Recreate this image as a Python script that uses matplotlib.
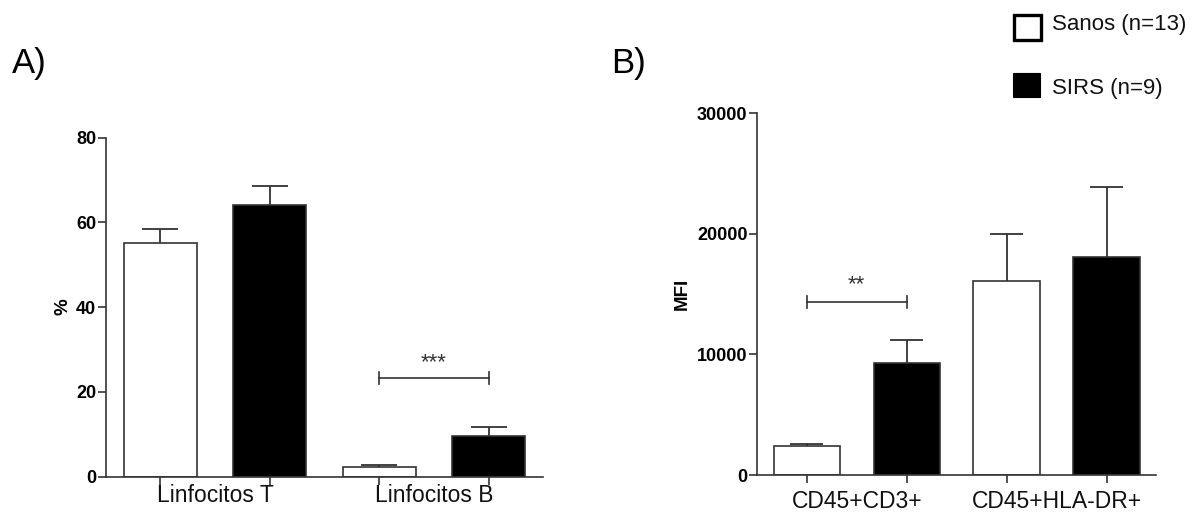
import matplotlib
matplotlib.use("Agg")
import matplotlib.pyplot as plt
from matplotlib.patches import Rectangle
import numpy as np

plt.rcParams['font.family'] = ['Liberation Sans', 'DejaVu Sans']

# ---- Data ----
groups_a = ["Linfocitos T", "Linfocitos B"]
sanos_a = [55.1, 2.2]
sanos_a_err = [3.3, 0.5]
sirs_a = [64.2, 9.5]
sirs_a_err = [4.5, 2.1]

groups_b = ["CD45+CD3+", "CD45+HLA-DR+"]
sanos_b = [2430, 16080]
sanos_b_err = [170, 3950]
sirs_b = [9260, 18070]
sirs_b_err = [1950, 5800]

series_labels = ["Sanos (n=13)", "SIRS (n=9)"]
yticks_a = [0, 20, 40, 60, 80]
yticks_b = [0, 10000, 20000, 30000]

W, H = 1194, 514
fig = plt.figure(figsize=(W / 100, H / 100), dpi=100)

EDGE = '#333333'


def fx(px):
    return px / W


def fy(py):
    return 1 - py / H


def draw_panel(ax, groups, s_vals, s_err, d_vals, d_err, yticks, ylim, ylabel,
               label_off, bar_w):
    pos = np.arange(2 * len(groups))
    vals, errs, colors = [], [], []
    for i in range(len(groups)):
        vals += [s_vals[i], d_vals[i]]
        errs += [s_err[i], d_err[i]]
        colors += ['white', 'black']
    ax.bar(pos, vals, width=bar_w, color=colors, edgecolor=EDGE, linewidth=1.2,
           zorder=2)
    tops = np.array(vals) + np.array(errs)
    ax.vlines(pos, vals, tops, color=EDGE, linewidth=1.3, zorder=1)
    ax.hlines(tops, pos - bar_w / 4, pos + bar_w / 4, color=EDGE, linewidth=1.3,
              zorder=1)
    ax.set_xlim(-0.495, len(pos) - 1 + 0.495)
    ax.set_ylim(*ylim)
    ax.set_yticks(yticks)
    ax.set_yticklabels([str(t) for t in yticks], fontsize=13, fontweight='bold')
    ax.set_xticks(pos)
    ax.set_xticklabels([''] * len(pos))
    for sp in ['top', 'right']:
        ax.spines[sp].set_visible(False)
    for sp in ['left', 'bottom']:
        ax.spines[sp].set_color(EDGE)
        ax.spines[sp].set_linewidth(1.2)
    ax.tick_params(axis='both', direction='out', length=5.5, width=1.2,
                   color=EDGE, pad=1.5)
    ax.set_ylabel(ylabel, fontsize=13.5, fontweight='bold')
    for i, g in enumerate(groups):
        ax.annotate(g, xy=(2 * i + 0.5, 0), xycoords=('data', 'axes fraction'),
                    xytext=(0, -label_off), textcoords='offset pixels',
                    ha='center', va='center', fontsize=16.5, color='#111111')


# Panel A
ax_a = fig.add_axes([fx(106), fy(476.5), fx(543 - 106), (476.5 - 137.7) / H])
draw_panel(ax_a, groups_a, sanos_a, sanos_a_err, sirs_a, sirs_a_err,
           yticks_a, (0, 80), '%', 18.5, 0.665)
ax_a.yaxis.set_label_coords(-0.078, 0.5)
# significance bracket A
ax_a.plot([2, 3], [23.3, 23.3], color=EDGE, lw=1.2)
ax_a.plot([2, 2], [21.9, 24.7], color=EDGE, lw=1.2)
ax_a.plot([3, 3], [21.9, 24.7], color=EDGE, lw=1.2)
ax_a.text(2.5, 25.6, '***', ha='center', va='baseline', fontsize=16,
          color='#333333')

# Panel B
ax_b = fig.add_axes([fx(757.3), fy(475), fx(1156 - 757.3), (475 - 113.3) / H])
draw_panel(ax_b, groups_b, sanos_b, sanos_b_err, sirs_b, sirs_b_err,
           yticks_b, (0, 30000), 'MFI', 26.5, 0.663)
ax_b.yaxis.set_label_coords(-0.166, 0.5)
ax_b.plot([0, 1], [14370, 14370], color=EDGE, lw=1.2)
ax_b.plot([0, 0], [13870, 14870], color=EDGE, lw=1.2)
ax_b.plot([1, 1], [13870, 14870], color=EDGE, lw=1.2)
ax_b.text(0.5, 15300, '**', ha='center', va='baseline', fontsize=16,
          color='#333333')

# Panel letters
fig.text(fx(12), fy(73), 'A)', fontsize=25, ha='left', va='baseline')
fig.text(fx(611), fy(73), 'B)', fontsize=25, ha='left', va='baseline')

# Legend
fig.add_artist(Rectangle((fx(1014), fy(40.5)), fx(26.5), (40.5 - 15) / H,
                         transform=fig.transFigure, facecolor='white',
                         edgecolor='black', linewidth=2.4))
fig.add_artist(Rectangle((fx(1013), fy(97.3)), fx(27), (97.3 - 72.7) / H,
                         transform=fig.transFigure, facecolor='black',
                         edgecolor='black', linewidth=0.8))
fig.text(fx(1052), fy(24.5), series_labels[0], fontsize=16, ha='left',
         va='center', color='#111111')
fig.text(fx(1052), fy(88.5), series_labels[1], fontsize=16, ha='left',
         va='center', color='#111111')

fig.savefig('out.png', dpi=100)
